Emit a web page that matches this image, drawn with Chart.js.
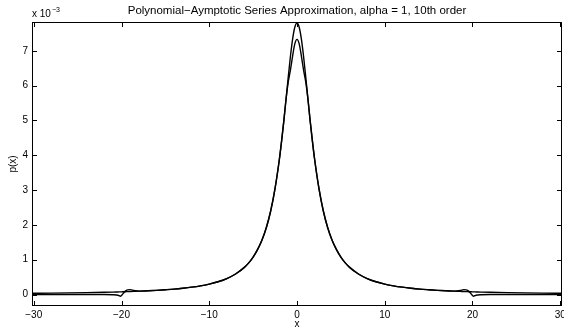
<!DOCTYPE html>
<html lang="en">
<head>
  <meta charset="UTF-8" />
  <title>Polynomial-Aymptotic Series Approximation</title>
  <style>
    body { margin: 0; background: #fff; }
    canvas { display: block; }
  </style>
  <script src="https://cdn.jsdelivr.net/npm/chart.js"></script>
</head>
<body>
  <canvas id="grafico" width="564" height="330"></canvas>

  <script>
    // valores, p(x) em unidades de 1e-3
    const xVals = [-30.2, -28, -26, -24, -22, -21, -20.4, -20.1, -19.9, -19.6, -19.3, -19, -18.6, -18, -17, -16, -15, -14, -13, -12, -11, -10, -9, -8, -7, -6, -5.5, -5, -4.5, -4, -3.5, -3, -2.5, -2, -1.75, -1.5, -1.25, -1, -0.75, -0.5, -0.25,
      0,
      0.25, 0.5, 0.75, 1, 1.25, 1.5, 1.75, 2, 2.5, 3, 3.5, 4, 4.5, 5, 5.5, 6, 7, 8, 9, 10, 11, 12, 13, 14, 15, 16, 17, 18, 18.6, 19, 19.3, 19.6, 19.9, 20.1, 20.4, 21, 22, 24, 26, 28, 30.2];

    const pExact = [0.035, 0.04, 0.046, 0.054, 0.064, 0.07, 0.074, 0.076, 0.078, 0.08, 0.083, 0.086, 0.09, 0.096, 0.107, 0.12, 0.137, 0.156, 0.181, 0.211, 0.249, 0.3, 0.366, 0.459, 0.59, 0.78, 0.91, 1.076, 1.29, 1.56, 1.92, 2.4, 3.05, 3.9, 4.42, 4.99, 5.61, 6.24, 6.84, 7.34, 7.68,
      7.8,
      7.68, 7.34, 6.84, 6.24, 5.61, 4.99, 4.42, 3.9, 3.05, 2.4, 1.92, 1.56, 1.29, 1.076, 0.91, 0.78, 0.59, 0.459, 0.366, 0.3, 0.249, 0.211, 0.181, 0.156, 0.137, 0.12, 0.107, 0.096, 0.09, 0.086, 0.083, 0.08, 0.078, 0.076, 0.074, 0.07, 0.064, 0.054, 0.046, 0.04, 0.035];

    const pApprox = [0.0, 0.0, 0.0, 0.0, 0.0, -0.005, -0.02, -0.05, 0.0, 0.09, 0.135, 0.14, 0.115, 0.096, 0.107, 0.12, 0.137, 0.156, 0.181, 0.211, 0.249, 0.3, 0.366, 0.459, 0.59, 0.78, 0.91, 1.076, 1.29, 1.56, 1.92, 2.4, 3.05, 3.9, 4.42, 4.99, 5.61, 6.1, 6.45, 6.85, 7.2,
      7.33,
      7.2, 6.85, 6.45, 6.1, 5.61, 4.99, 4.42, 3.9, 3.05, 2.4, 1.92, 1.56, 1.29, 1.076, 0.91, 0.78, 0.59, 0.459, 0.366, 0.3, 0.249, 0.211, 0.181, 0.156, 0.137, 0.12, 0.107, 0.096, 0.115, 0.14, 0.135, 0.09, 0.0, -0.05, -0.02, -0.005, 0.0, 0.0, 0.0, 0.0, 0.0];

    const xTicks = [-30, -20, -10, 0, 10, 20, 30];
    const yTicks = [0, 1, 2, 3, 4, 5, 6, 7];

    const fonte = '"Liberation Sans", Arial, sans-serif';
    const menos = v => String(v).replace('-', '\u2212');

    // moldura estilo matlab: caixa, marcas para dentro e o "x 10^-3"
    const moldura = {
      id: 'moldura',
      afterDatasetsDraw(chart) {
        const { ctx, chartArea: a, scales: { x, y } } = chart;
        ctx.save();
        ctx.strokeStyle = '#000';
        ctx.lineWidth = 1;
        ctx.strokeRect(a.left + 0.5, a.top + 0.5, a.right - a.left - 1, a.bottom - a.top - 1);
        ctx.beginPath();
        x.ticks.forEach(t => {
          const px = Math.round(x.getPixelForValue(t.value)) + 0.5;
          ctx.moveTo(px, a.bottom); ctx.lineTo(px, a.bottom - 5);
          ctx.moveTo(px, a.top); ctx.lineTo(px, a.top + 5);
        });
        y.ticks.forEach(t => {
          const py = Math.round(y.getPixelForValue(t.value)) + 0.5;
          ctx.moveTo(a.left, py); ctx.lineTo(a.left + 5, py);
          ctx.moveTo(a.right, py); ctx.lineTo(a.right - 5, py);
        });
        ctx.stroke();

        ctx.fillStyle = '#000';
        ctx.textAlign = 'left';
        ctx.textBaseline = 'alphabetic';
        ctx.font = '10px ' + fonte;
        ctx.fillText('x 10', a.left, a.top - 5);
        const w = ctx.measureText('x 10').width;
        ctx.font = '7px ' + fonte;
        ctx.fillText('\u22123', a.left + w + 1, a.top - 10);
        ctx.restore();
      }
    };

    const ctx = document.getElementById('grafico').getContext('2d');
    new Chart(ctx, {
      type: 'line',
      data: {
        datasets: [
          {
            label: 'exact',
            data: xVals.map((v, i) => ({ x: v, y: pExact[i] })),
            borderColor: '#000',
            borderWidth: 1.4,
            pointRadius: 0,
            cubicInterpolationMode: 'monotone'
          },
          {
            label: 'approx',
            data: xVals.map((v, i) => ({ x: v, y: pApprox[i] })),
            borderColor: '#000',
            borderWidth: 1.4,
            pointRadius: 0,
            cubicInterpolationMode: 'monotone'
          }
        ]
      },
      options: {
        responsive: false,
        animation: false,
        layout: { padding: { left: 0, right: 2, top: 0, bottom: 0 } },
        plugins: {
          legend: { display: false },
          tooltip: { enabled: false },
          title: {
            display: true,
            fullSize: false,
            text: 'Polynomial\u2212Aymptotic Series Approximation, alpha = 1, 10th order',
            color: '#000',
            font: { family: fonte, size: 11.5, weight: 'normal', lineHeight: '12px' },
            padding: { top: 5, bottom: 5 }
          }
        },
        scales: {
          x: {
            type: 'linear',
            min: -30.2,
            max: 30.2,
            afterBuildTicks: s => { s.ticks = xTicks.map(v => ({ value: v })); },
            afterFit: s => { s.height = 24; s.paddingLeft = 0; s.paddingRight = 0; },
            grid: { display: false, drawTicks: false },
            border: { display: false },
            ticks: {
              color: '#000',
              padding: 3,
              maxRotation: 0,
              font: { family: fonte, size: 10 },
              callback: v => menos(v)
            },
            title: {
              display: true,
              text: 'x',
              color: '#000',
              font: { family: fonte, size: 10 },
              padding: { top: 0, bottom: 0 }
            }
          },
          y: {
            min: -0.33,
            max: 7.83,
            afterBuildTicks: s => { s.ticks = yTicks.map(v => ({ value: v })); },
            afterFit: s => { s.width = 32; s.paddingTop = 0; s.paddingBottom = 0; },
            grid: { display: false, drawTicks: false },
            border: { display: false },
            ticks: {
              color: '#000',
              padding: 4,
              font: { family: fonte, size: 10 },
              callback: v => menos(v)
            },
            title: {
              display: true,
              text: 'p(x)',
              color: '#000',
              font: { family: fonte, size: 10 },
              padding: { top: 7, bottom: 0 }
            }
          }
        }
      },
      plugins: [moldura]
    });
  </script>
</body>
</html>
